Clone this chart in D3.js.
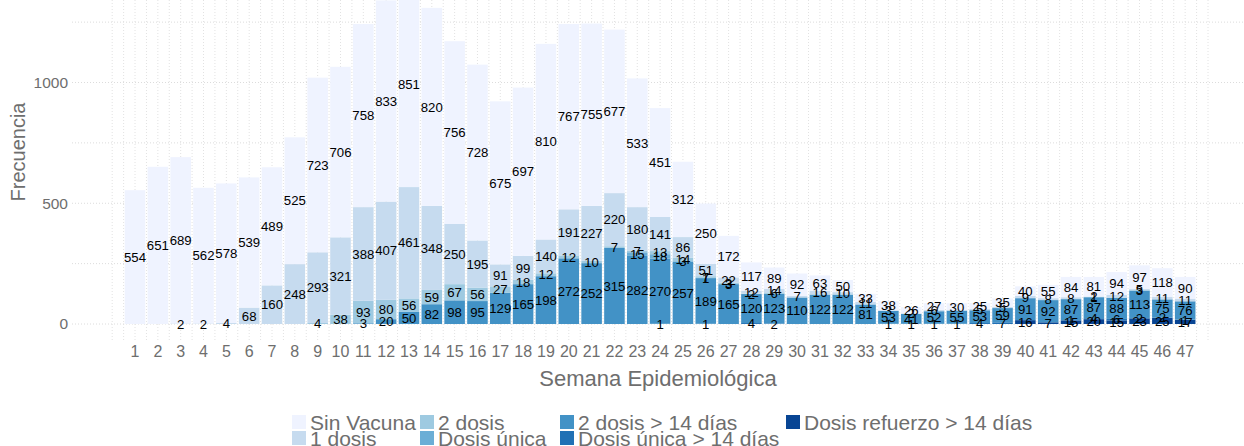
<!DOCTYPE html>
<html><head><meta charset="utf-8">
<script src="https://cdn.jsdelivr.net/npm/d3@7"></script>
<style>body{margin:0;background:#fff} svg{display:block;font-family:"Liberation Sans",Arial,sans-serif}</style>
</head><body><svg id="c" width="1244" height="446"></svg>
<script>
const weeks = d3.range(1, 48);
const sinVacuna   = [554,651,689,562,578,539,489,525,723,706, 758,833,851,820,756,728,675,697,810,767, 755,677,533,451,312,250,172,117,89,92, 63,50,33,38,26,27,30,25,35,40, 55,84,81,94,97,118,90];
const unaDosis    = [0,0,2,2,4,68,160,248,293,321, 388,407,461,348,250,195,91,99,140,191, 227,220,180,141,86,51,22,12,14,7, 16,10,11,3,2,6,0,5,5,9, 8,8,2,12,5,11,11];
const dosDosis    = [0,0,0,0,0,0,0,0,4,38, 93,80,56,59,67,56,27,18,12,12, 10,7,7,13,14,7,3,2,6,0, 0,0,0,0,0,0,0,0,0,0, 0,0,1,0,3,0,0];
const dosisUnica  = [0,0,0,0,0,0,0,0,0,0, 0,0,0,0,0,0,0,0,0,0, 0,0,15,18,3,1,3,0,0,0, 0,0,0,0,0,0,0,0,0,0, 0,0,0,0,0,0,0];
const dosDosis14  = [0,0,0,0,0,0,0,0,0,0, 3,20,50,82,98,95,129,165,198,272, 252,315,282,270,257,189,165,120,123,110, 122,122,81,53,41,52,55,53,59,91, 92,87,87,88,113,75,76];
const dosisUnica14= [0,0,0,0,0,0,0,0,0,0, 0,0,0,0,0,0,0,0,0,0, 0,0,0,1,0,1,0,4,2,0, 0,0,0,1,1,1,1,4,7,0, 0,1,4,6,2,2,1];
const refuerzo14  = [0,0,0,0,0,0,0,0,0,0, 0,0,0,0,0,0,0,0,0,0, 0,0,0,0,0,0,0,0,0,0, 0,0,0,0,0,0,0,0,0,16, 7,15,20,15,23,25,17];

const legendNames = ["Sin Vacuna","1 dosis","2 dosis","Dosis única","2 dosis > 14 días","Dosis única > 14 días","Dosis refuerzo > 14 días"];
const palette = ["#eff3ff","#c6dbef","#9ecae1","#6baed6","#4292c6","#2171b5","#084594"];
const yTickValues = [0, 500, 1000];
const yGridValues = [0, 250, 500, 750, 1000, 1250];

const seriesArrays = [sinVacuna, unaDosis, dosDosis, dosisUnica, dosDosis14, dosisUnica14, refuerzo14];
const rows = weeks.map((w, i) => {
  const r = {week: w};
  legendNames.forEach((k, j) => r[k] = seriesArrays[j][i]);
  return r;
});
const stackKeys = legendNames.slice().reverse(); // bottom -> top
const stacked = d3.stack().keys(stackKeys)(rows);
const color = d3.scaleOrdinal().domain(legendNames).range(palette);

const svg = d3.select("#c");
const x = d3.scaleBand().domain(weeks).range([123.6, 1196.6]).paddingInner(0.1).paddingOuter(0.05);
const xLin = d3.scaleLinear().domain([0, 48]).range([112.2, 1208]);
const y = d3.scaleLinear().domain([0, 1000]).range([324, 82.5]);

// grid
const grid = svg.append("g");
grid.selectAll("line.h").data(yGridValues).join("line")
  .attr("x1", 72).attr("x2", 1244).attr("y1", d => y(d)).attr("y2", d => y(d))
  .attr("stroke", "#dcdcdc").attr("stroke-width", 1).attr("stroke-dasharray", "1 2");
grid.selectAll("line.v").data(d3.range(0, 48.01, 0.5)).join("line")
  .attr("x1", d => xLin(d)).attr("x2", d => xLin(d)).attr("y1", 0).attr("y2", 341)
  .attr("stroke", "#e2e2e2").attr("stroke-width", 1).attr("stroke-dasharray", "1 2");

// bars
const layers = svg.append("g").selectAll("g").data(stacked).join("g").attr("fill", d => color(d.key));
layers.selectAll("rect").data(d => d).join("rect")
  .attr("x", d => x(d.data.week)).attr("width", x.bandwidth())
  .attr("y", d => y(d[1])).attr("height", d => y(d[0]) - y(d[1]));

// labels
const lab = svg.append("g").attr("font-size", 13.2).attr("text-anchor", "middle").attr("fill", "#000");
stacked.slice().reverse().forEach(layer => {
  lab.selectAll(null).data(layer.filter(d => d[1] - d[0] > 0)).join("text")
    .attr("x", d => x(d.data.week) + x.bandwidth() / 2)
    .attr("y", d => y((d[0] + d[1]) / 2))
    .attr("dy", "0.36em")
    .text(d => d[1] - d[0]);
});

// axes
const yAxis = svg.append("g").attr("transform", "translate(68,0)")
  .call(d3.axisLeft(y).tickValues(yTickValues).tickSize(0).tickPadding(0).tickFormat(d3.format("d")));
yAxis.select(".domain").remove();
yAxis.selectAll("text").attr("font-size", 15.5).attr("fill", "#6e6e6e").attr("font-family", "Liberation Sans, Arial, sans-serif");

const xAxis = svg.append("g").attr("transform", "translate(0,346)")
  .call(d3.axisBottom(x).tickSize(0).tickPadding(0));
xAxis.select(".domain").remove();
xAxis.selectAll("text").attr("font-size", 16).attr("fill", "#6e6e6e").attr("font-family", "Liberation Sans, Arial, sans-serif");

svg.append("text").attr("transform", "translate(25,152) rotate(-90)").attr("text-anchor", "middle")
  .attr("font-size", 20).attr("fill", "#6e6e6e").text("Frecuencia");
svg.append("text").attr("x", 658).attr("y", 386).attr("text-anchor", "middle")
  .attr("font-size", 22).attr("fill", "#6e6e6e").text("Semana Epidemiológica");

// legend (2 rows, filled by column)
const legendPos = [
  {kx: 292, ky: 415}, {kx: 292, ky: 431},
  {kx: 420, ky: 415}, {kx: 420, ky: 431},
  {kx: 560, ky: 415}, {kx: 560, ky: 431},
  {kx: 786, ky: 415}
];
const leg = svg.append("g");
legendNames.forEach((name, i) => {
  const p = legendPos[i];
  leg.append("rect").attr("x", p.kx).attr("y", p.ky).attr("width", 14).attr("height", 14).attr("fill", color(name));
  leg.append("text").attr("x", p.kx + 18).attr("y", p.ky + 7).attr("dy", "0.36em")
    .attr("font-size", 21).attr("fill", "#6e6e6e").text(name);
});
</script></body></html>
